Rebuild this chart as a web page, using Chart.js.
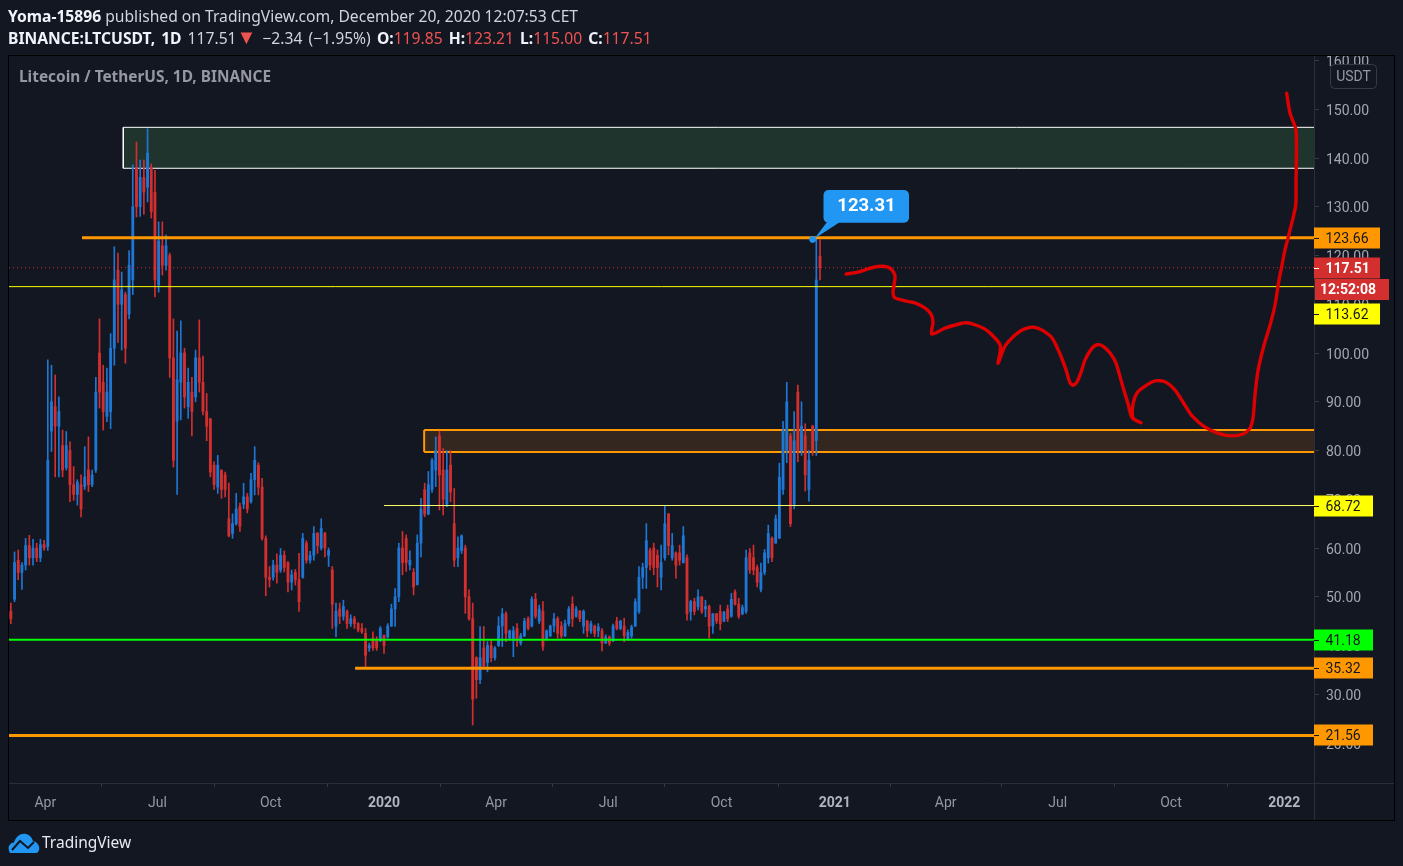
<!DOCTYPE html>
<html><head><meta charset="utf-8">
<script src="https://cdn.jsdelivr.net/npm/chart.js@4/dist/chart.umd.min.js"></script>
<style>
html,body{margin:0;padding:0;background:#131722;width:1403px;height:866px;overflow:hidden}
canvas{position:absolute;left:0;top:0}
.t{position:absolute;white-space:nowrap;font-family:"Noto Sans",sans-serif;font-size:15.65px;line-height:18px;color:#d1d4dc}
.t b{color:#f0f3fa;font-weight:700}
.r{color:#ef5350}
</style></head><body>
<canvas id="c" width="1403" height="866"></canvas>
<div class="t" style="left:8px;top:7px"><b>Yoma-15896</b> published on TradingView.com, December 20, 2020 12:07:53 CET</div>
<div class="t" style="left:8px;top:29px;word-spacing:2px"><b>BINANCE:LTCUSDT, 1D</b> 117.51<span class="r" style="font-size:20px;line-height:0">▼</span> −2.34 (−1.95%) <b>O:</b><span class="r">119.85</span> <b>H:</b><span class="r">123.21</span> <b>L:</b><span class="r">115.00</span> <b>C:</b><span class="r">117.51</span></div>
<div class="t" style="left:19px;top:68px;font-size:15.4px;font-weight:700;color:#9598a1">Litecoin / TetherUS, 1D, BINANCE</div>
<svg style="position:absolute;left:8px;top:833px" width="32" height="20" viewBox="0 0 32 20"><path d="M2 20C-1 15 1 10 6 9.5C8 3 13 0 18 1C22 2 24 5 25 8C30 9 32 14 31 17C30.5 18.5 30 20 28 20Z" fill="#2196f3"/><path d="M4 17L12 8L20 15L26 9" stroke="#131722" stroke-width="2" fill="none"/></svg>
<div class="t" style="left:42px;top:833px;font-size:15.5px;color:#e8eaf0">TradingView</div>
<script>
const opens=[47,49.5,57.5,55,56.5,60.5,58,60,58,60.7,60.3,84,89,85,81,76.5,80,73,71,73,72.6,76,73,76,100,94,87,88,101,117,110,112,108,115,138,130,136,134,138,133,114,122,118,120,99,86,94,100,89,92,91,99,94,88,86.5,77,72.5,76,75,66,63,65,68.5,69,70.5,69.5,74,77,72.5,62,54,54,56.5,55.5,58.5,57,53,55,53.5,54,61,57.5,58.5,63,60,63,58.5,55.5,44,47.5,46,47,44.5,45.5,44.5,43.5,42.5,39.5,41.5,41,41,42,41.8,44,47.5,50,60,62,56.5,55,52.5,61,72,67,72,76,83,76,69,77,65,58,59.5,60,50,45.5,37.5,33,39.5,36.5,40,37.5,40,44,46.5,41.5,41,43.5,40.5,42,45.5,44,49.5,45,47,41.3,42,44,45.5,44,42,44.5,48.5,46,47,44,45,43,44,43,43,40.5,41.7,41,45,43.5,44,41.3,42,44,47,54,56,59.5,60,58.5,54,58,67,58,59,59,57,58,47,49,48,50,47.5,48,44,46.5,47,45,47.5,46,51,48.5,46.5,47,59,58,56,51.5,55,58,62,61,62,72,80,83,69,92,80,83,72,85,82,119.85];
const highs=[48.7,59.2,59.6,57,62,62.6,61.8,61,61.8,61.6,98.6,97.5,95.5,91,84.2,83.9,81.8,76.7,74,75,80.8,82.8,76,95,107,97.5,96.9,104,121.8,120.5,116.6,112.5,121,138.6,143.3,139.6,139.6,146,138.8,137.5,126.9,126.9,124.2,120.5,107,104.5,106.6,101,96.9,95,100.6,106.8,99.4,91.7,86.6,77.7,79,76,75.6,73.3,67,71.2,69.2,73.3,71.2,75.3,80.8,77.5,74.3,62.5,56.2,57.5,58.8,59.9,59.4,57.2,55.5,55.6,58.9,63,61.5,59.3,64.4,63.2,66,63.2,60,56.2,48.7,48.7,49.3,47.3,46.3,46,44.7,44.5,43.5,40.5,42.8,41.8,43.9,42.2,44.5,48.5,51.7,61,63.4,62.7,59.4,55.8,62.7,70.2,73.3,75.7,78.4,82.8,84,80.4,80,80,72.2,62.3,62.7,60.6,51.4,48.7,37.7,43.9,43.9,40.8,41.1,39.8,45.9,47.6,46.9,43.2,43.9,44.5,42.5,45.6,45.9,50,50.7,48.3,49,43.2,44.2,46.6,45.9,44.9,45.2,48,50,48,47.2,47.3,45.2,45,44.2,44.5,43.5,42.2,42,44.4,45.8,45.2,45.6,43.2,44.2,49.6,56.2,56.9,65,60,61,59.6,60.6,68.6,67.1,63,59.2,60.6,64.4,58.6,49.3,49.7,51.4,50,49.3,48.3,46.6,46.6,48.3,47,48.3,50.7,51.4,49.7,48.3,59.6,59.9,60.6,56.5,56.9,59.7,64.7,62.3,66.8,77.4,86,94,83.5,88,93.4,90,85.5,80,85.2,123.31,123.21];
const lows=[44.5,49,53.5,51.5,55.5,56.5,56.5,57.2,57.2,59.5,59.5,79.8,74.6,74.6,74.6,76,69.5,69.8,68.8,66.4,72,71.6,72.6,75.5,88.7,84.2,85.9,84.5,97.5,102.2,100.6,97.9,107,112,127.9,128,128.5,131,127.7,111.5,112.5,116,117,95,76.6,71,86.3,88.7,86.6,83,90,92,87.3,82,74.6,72,71.2,70.2,70.5,62.3,62,64.7,63.4,68.1,67.2,69.2,70.9,70.9,61.6,50.2,52,53.4,52.8,55,55.1,51,51.4,52.4,47,53.8,56.9,56.9,57.5,58.9,59.6,58.2,56.2,43.5,41.8,44.5,45.2,43.5,43.9,43.5,42.8,42.5,35.7,38.8,39,39,40.8,38.4,41.5,43.9,43.9,49,54.5,55.2,55.5,50.4,52.4,58.2,66.4,66.8,71.4,72.6,67.8,66.8,68.5,69.5,56.2,56.2,58.9,46.6,45.2,23.7,29.2,32.2,35.7,34.6,36.7,37,39.8,39.8,40.8,41.1,37.7,39.8,40.1,41.8,43.2,43.8,45.6,44.5,39,41.1,41.8,42.8,41.5,41.5,41.8,44,43.9,45.8,44.9,42.5,41.8,42.5,41.8,41.8,38.9,40.4,40,40.8,43.2,43.2,40.8,41.1,41.5,43.9,46.6,51.7,51.7,55.5,54.5,52,51.4,57.5,58.6,57.5,53.8,56.5,56.9,45.2,45.2,46.3,47.3,46.6,45.9,41.5,42.5,44.5,43.2,44.9,44.9,45.8,48.3,45.6,46.3,46.6,54.8,54.5,52,51,54.5,56.9,57.2,61,62,71,77.5,64.4,68,77.7,79,71.7,69.6,79,79,115];
const closes=[45.5,57,55,56.5,60.5,58,60,58,60.7,60,78,90,85,88,76,81,73,71,73.5,68,74.6,73,75,92,92,88,92,101,115,110,113,101,118,130,130,136,133,141,129,115,123,118,122,99,78,94.5,100,91,94,88,99,94,88,85,75.6,73,77,72,72,62.5,65,68,64.5,70.5,68,74,78,72.5,62,54,53.5,56.5,55,58.5,56,53,54.5,53.5,49,62,57.5,58.5,63,60.5,64,60,59.5,48.5,47,46,48,44.5,45.5,44.5,43.2,42.8,38,40,39.5,39.5,43.5,40,44,47.5,50,60,57,57,57.5,52,61,68,67,73,78,80,75,70,76,71.5,57.5,60,62.5,50,45.5,29,33,37.5,35.8,40,37.5,39.5,44,46.5,42.5,43,43,41,42,45,43.5,49.5,46,47.5,39.8,43,44,45.5,42.5,42,44.5,47.5,45.5,47.5,45.5,47,43,44.5,42.5,43.8,40.5,41.7,40.5,44,43.5,45,42,42.7,43.8,49,54,56,61.5,56.5,56,56,57,65,60.5,60.5,56.5,57.5,62.5,46.5,49,47,50,47,48,44,46.5,45,44.5,46.8,45.5,49.5,48.5,46,47.8,58,55.5,55.5,53,55,59,63,58,66,74.5,84,90,65,82,80,85,75,78,80,115,117.51];
const candleStartDay=-28, candleStepDays=3;
const days=opens.map((_,i)=>candleStartDay+i*candleStepDays);

const yTicks=[160,150,140,130,120,110,100,90,80,70,60,50,40,30,20];
const xTickDays=[0,91,183,275,366,457,549,641,731,822,914,1006];
const xTickLabels=['Apr','Jul','Oct','2020','Apr','Jul','Oct','2021','Apr','Jul','Oct','2022'];
const xMin=-29.5,xMax=1030.1,yMin=11.8,yMax=160.93;

const sketchDays=[650.1,659.9,669.6,677.7,684.2,687.5,689.9,689.1,688.3,689.9,698,706.1,714.3,719.1,720.8,719.6,730.5,741.1,747.6,754.9,763,769.5,775.2,775.2,773.6,779.2,787.4,794.7,802.8,809.3,817.4,823.9,828.8,832,834.5,837.7,841,844.2,849.9,854,858.8,864.5,869.4,874.3,879.1,882.4,889.7,883.2,883.2,886.4,892.9,901,909.1,917.3,923.8,931.1,941.6,953.8,963.6,972.5,978.2,980.6,982.2,984.7,989.5,994.4,998.5,1001.7,1003.3,1006.5,1010.6,1015.2,1015.5,1015.5,1010.6,1007.9];
const sketchPrices=[116.2,116.6,117.4,117.8,117.6,117,115.8,113.9,112.3,111.3,110.7,110.3,109.2,108,106.4,103.9,105.1,105.9,106.2,105.8,104.9,103.5,101.7,100.2,97.9,101.4,103.7,104.9,105.3,104.7,103.1,99.8,96.5,93.9,93.4,94.1,96.1,98.6,101,101.7,101.4,100,97.9,93.6,89.6,86.7,85.7,86.7,89.6,91.8,93.2,94.3,94.1,92.4,89.9,87.1,84.8,83.4,83,83.4,84.6,86.7,91.4,96.5,101.6,105.7,109.9,115,117,121.1,125.2,130.2,134.9,145.7,149.2,153.3];

const levelPrices=[123.66,117.51,113.62,68.72,41.18,35.32,21.56];
const levelStartDays=[29.8,-29.5,-29.5,275,-29.5,251.5,-29.5];
const levelColors=['#ff9800','#d32f2f','#ffff00','#ffff66','#00ff00','#ff9800','#ff9800'];
const levelWidths=[3,1,1,1,2,3,3];
const tagFill=['#ff9800','#d32f2f','#ffff00','#ffff00','#00ff00','#ff9800','#ff9800'];
const tagText=['#131722','#ffffff','#131722','#131722','#131722','#131722','#131722'];
const tagRight=[1380,1380,1380,1373,1373,1373,1373];
const tagShift=[0,0,27,0,0,0,0];

const peakDay=623, peakPrice=123.31;
const zoneGreen={top:146.3,bottom:137.9,start:63.3};
const zoneOrange={top:84.2,bottom:79.7,start:307.6};

const UP='#1e77d4',DOWN='#d32f2f';
const colors=opens.map((o,i)=>closes[i]>=o?UP:DOWN);
const hline=(x0,y,color,w,order,extra)=>Object.assign({type:'line',data:[{x:x0,y},{x:xMax,y}],borderColor:color,borderWidth:w,pointRadius:0,tension:0,order,fill:false,borderCapStyle:'butt'},extra||{});
const vline=(x,a,b,color,w,order)=>({type:'line',data:[{x,y:a},{x,y:b}],borderColor:color,borderWidth:w,pointRadius:0,order,fill:false});
const isYear=c=>{const t=c&&c.tick;if(!t)return false;const l=xTickLabels[xTickDays.indexOf(t.value)];return !!l&&l.length===4;};

const ds=[
 hline(zoneGreen.start,zoneGreen.top,'#ffffff',1,20,{fill:'+1',backgroundColor:'#20342e'}),
 hline(zoneGreen.start,zoneGreen.bottom,'#ffffff',1,19),
 vline(zoneGreen.start,zoneGreen.top,zoneGreen.bottom,'#ffffff',1,19),
 hline(zoneOrange.start,zoneOrange.top,'#ff9800',2,20,{fill:'+1',backgroundColor:'#33271f'}),
 hline(zoneOrange.start,zoneOrange.bottom,'#ff9800',2,19),
 vline(zoneOrange.start,zoneOrange.top,zoneOrange.bottom,'#ff9800',2,19),
 {type:'bar',grouped:false,order:11,barThickness:1,backgroundColor:colors,data:days.map((d,i)=>({x:d,y:[lows[i],highs[i]]}))},
 {type:'bar',grouped:false,order:10,barThickness:2.2,backgroundColor:colors,data:days.map((d,i)=>({x:d,y:[opens[i],closes[i]]}))}
];
levelPrices.forEach((p,i)=>ds.push(hline(levelStartDays[i],p,levelColors[i],levelWidths[i],5,i===1?{borderDash:[1,3]}:{})));
ds.push({type:'line',data:sketchDays.map((d,i)=>({x:d,y:sketchPrices[i]})),borderColor:'#de0000',borderWidth:3.4,pointRadius:0,tension:0.25,order:2,fill:false,borderCapStyle:'round',borderJoinStyle:'round'});
ds.push({type:'line',showLine:false,data:[{x:peakDay,y:peakPrice}],pointRadius:3,pointBackgroundColor:'#2196f3',pointBorderColor:'#2196f3',order:1});

const overlay={id:'overlay',
 beforeDraw(ch){const c=ch.ctx;c.save();c.fillStyle='#131722';c.fillRect(0,0,1403,866);c.restore();},
 afterDraw(ch){
  const c=ch.ctx,y=ch.scales.y,x=ch.scales.x;
  c.save();
  c.strokeStyle='#2a2e39';c.lineWidth=1;
  c.beginPath();c.moveTo(1314.5,783);c.lineTo(1314.5,820);c.moveTo(1314,783.5);c.lineTo(1394,783.5);c.stroke();
  c.strokeStyle='#000';c.strokeRect(8.5,55.5,1386,765);
  c.fillStyle='#131722';c.strokeStyle='#363a45';
  c.beginPath();c.roundRect(1330.5,64.5,46,24,4);c.fill();c.stroke();
  c.fillStyle='#9598a1';c.font='14px Roboto';c.textAlign='center';c.textBaseline='middle';
  c.fillText('USDT',1353.5,77);
  c.textAlign='left';
  levelPrices.forEach((p,i)=>{
   const py=Math.round(y.getPixelForValue(p))+tagShift[i];
   c.fillStyle=tagFill[i];c.fillRect(1314,py-10.5,tagRight[i]-1314,21);
   c.fillStyle=i===1?'#fff':'#131722';c.fillRect(1314,py,5,1);
   c.fillStyle=tagText[i];c.font=(i===1?'bold ':'')+'14px Roboto';
   c.fillText(p.toFixed(2),1325.5,py+1);
  });
  c.fillStyle='#d32f2f';c.fillRect(1315,279,74,21);
  c.fillStyle='#fff';c.font='bold 14px Roboto';c.fillText('12:52:08',1320,290);
  const px=x.getPixelForValue(peakDay),py=y.getPixelForValue(peakPrice);
  c.fillStyle='#2196f3';
  c.beginPath();c.moveTo(827,222);c.lineTo(840,222);c.lineTo(px+2,py-1);c.closePath();c.fill();
  c.beginPath();c.roundRect(823.5,190,85.5,32.7,5);c.fill();
  c.fillStyle='#fff';c.font='bold 18.5px Roboto';c.textAlign='center';
  c.fillText(peakPrice.toFixed(2),866.5,206);
  c.restore();
 }};

new Chart(document.getElementById('c'),{
 type:'bar',
 data:{datasets:ds},
 plugins:[overlay],
 options:{responsive:false,animation:false,devicePixelRatio:1,
  layout:{padding:{left:9,top:56,right:9,bottom:46}},
  plugins:{legend:{display:false},tooltip:{enabled:false},title:{display:false}},
  scales:{
   x:{type:'linear',position:'bottom',min:xMin,max:xMax,offset:false,
    afterFit(s){s.height=37},
    afterBuildTicks(s){s.ticks=xTickDays.map(v=>({value:v}))},
    grid:{drawOnChartArea:false,color:'#363a45',tickLength:4},
    border:{color:'#2a2e39'},
    ticks:{autoSkip:false,maxRotation:0,padding:8,
     color:c=>isYear(c)?'#b2b5be':'#9598a1',
     font:c=>({family:'Roboto',size:14,weight:isYear(c)?'bold':'normal'}),
     callback:v=>xTickLabels[xTickDays.indexOf(v)]}},
   y:{type:'linear',position:'right',min:yMin,max:yMax,
    afterFit(s){s.width=80},
    afterBuildTicks(s){s.ticks=yTicks.map(v=>({value:v}))},
    grid:{drawOnChartArea:false,color:'#363a45',tickLength:5},
    border:{color:'#2a2e39'},
    ticks:{autoSkip:false,padding:7,labelOffset:2,color:'#a3a6af',font:{family:'Roboto',size:14},callback:v=>v.toFixed(2)}}
  }}
});
</script>
</body></html>
